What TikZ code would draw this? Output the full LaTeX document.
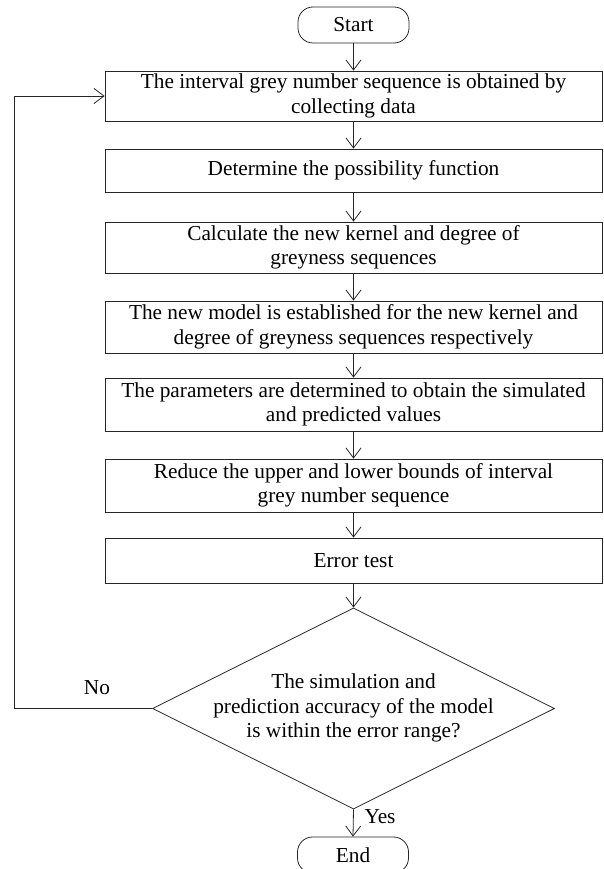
\documentclass[tikz,border=0pt]{standalone}
\usepackage{fontspec}
\setmainfont{Liberation Serif}
\usetikzlibrary{arrows.meta,shapes.geometric}
\tikzset{
  line/.style={draw=black!85, line width=0.8pt},
  procbox/.style={line, rectangle, minimum width=497pt, inner sep=0pt, align=center},
  termbox/.style={line, rectangle, rounded corners=15pt, minimum width=111pt, minimum height=36pt, inner sep=0pt},
  flow/.style={line, -{Straight Barb[length=10pt,width=15pt]}},
  lbl/.style={inner sep=0pt}
}
\begin{document}
\begin{tikzpicture}[x=1pt,y=-1pt, font=\fontsize{21.3}{24.5}\selectfont]
\useasboundingbox (0,0) rectangle (604,869);
\node[termbox] (start) at (353.5,25) {Start};
\node[procbox, minimum height=50pt] (b1) at (353.5,96) {The interval grey number sequence is obtained by\\collecting data};
\node[procbox, minimum height=43pt] (b2) at (353.5,170.5) {Determine the possibility function};
\node[procbox, minimum height=51pt] (b3) at (353.5,247.5) {Calculate the new kernel and degree of\\greyness sequences};
\node[procbox, minimum height=52pt] (b4) at (353.5,327) {The new model is established for the new kernel and\\degree of greyness sequences respectively};
\node[procbox, minimum height=53pt] (b5) at (353.5,404.5) {The parameters are determined to obtain the simulated\\and predicted values};
\node[procbox, minimum height=53pt] (b6) at (353.5,485.5) {Reduce the upper and lower bounds of interval\\grey number sequence};
\node[procbox, minimum height=45pt] (b7) at (353.5,560.5) {Error test};
\node[line, diamond, minimum width=402pt, minimum height=201pt, inner sep=0pt] (dec) at (353.5,708.5) {};
\node[align=center, inner sep=0pt] (dectext) at (353.5,708) {The simulation and\\prediction accuracy of the model\\is within the error range?};
\node[termbox] (end) at (353,855) {End};
\coordinate (lp) at (14,708.5);
\draw[flow] (start) -- (b1);
\draw[flow] (b1) -- (b2);
\draw[flow] (b2) -- (b3);
\draw[flow] (b3) -- (b4);
\draw[flow] (b4) -- (b5);
\draw[flow] (b5) -- (b6);
\draw[flow] (b6) -- (b7);
\draw[flow] (b7) -- (dec.north);
\draw[flow] (dec.south) -- (end.north);
\draw[flow] (dec.west) -- (lp) |- (b1.west);
\node[lbl] (no) at (97,688) {No};
\node[lbl] (yes) at (380,817) {Yes};
\end{tikzpicture}
\end{document}
